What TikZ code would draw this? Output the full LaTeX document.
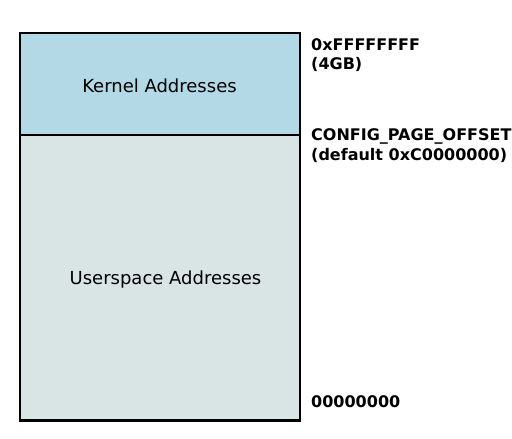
\documentclass[tikz,border=0pt]{standalone}
\usepackage{fontspec}
\setmainfont{DejaVu Sans}
\definecolor{kernelblue}{RGB}{179,217,230}
\definecolor{usergray}{RGB}{217,229,229}
\begin{document}
\begin{tikzpicture}[x=1pt,y=-1pt,
  region/.style={draw=black,line width=2.4pt},
  regionlabel/.style={font=\fontsize{18}{21}\selectfont,inner sep=0pt,anchor=base},
  addrlabel/.style={font=\fontsize{16}{19.5}\selectfont\bfseries,inner sep=0pt,anchor=base west,align=left}]
\useasboundingbox (0,0) rectangle (512,439);
\fill[kernelblue] (20,33) rectangle (300,135);
\fill[usergray] (20,135) rectangle (300,420.5);
\draw[region] (20,135) -- (300,135);
\draw[region] (20,33) rectangle (300,420.5);
\node[regionlabel] (kernel) at (159.5,92) {Kernel Addresses};
\node[regionlabel] (user) at (165.5,284.5) {Userspace Addresses};
\node[addrlabel] (top) at (311,69.5) {0xFFFFFFFF\\(4GB)};
\node[addrlabel,font=\fontsize{16}{20}\selectfont\bfseries] (offset) at (311,160.5) {CONFIG\_PAGE\_OFFSET\\(default 0xC0000000)};
\node[addrlabel] (zero) at (311,407) {00000000};
\end{tikzpicture}
\end{document}
